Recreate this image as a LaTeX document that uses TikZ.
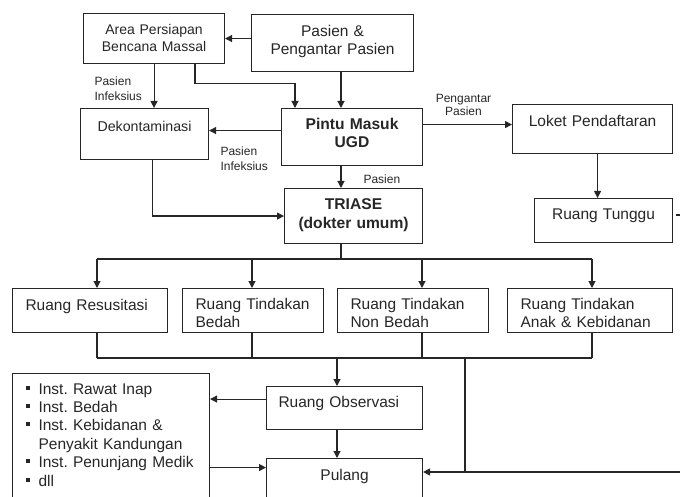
\documentclass[tikz,border=0pt]{standalone}
\usepackage{fontspec}
\setmainfont{Liberation Sans}
\usepackage{tikz}
\usetikzlibrary{arrows.meta}
\frenchspacing
\newcommand{\butir}{\makebox[13pt][l]{\rule[4.5pt]{4pt}{4pt}}}
\tikzset{
    kotak/.style = {rectangle, draw, anchor=north west, inner sep=0pt, align=center, font=\fontsize{15.5}{18}\selectfont},
    kotak_kiri/.style = {kotak, inner xsep=13pt, align=left, font=\fontsize{15.5}{17.5}\selectfont},
    kotak_tebal/.style = {kotak, font=\fontsize{15.6}{18.5}\selectfont\bfseries},
    ket/.style = {inner sep=0pt, text width=60pt, align=left, font=\fontsize{12}{15.5}\selectfont}
}

\begin{document}
\begin{tikzpicture}
            [x=1pt, y=-1pt, line width=1.1pt, color=black!85,
            >={Triangle[length=7pt, width=7pt]}]

            \useasboundingbox (0,0) rectangle (680,497);
            \clip (0,0) rectangle (680,497);

            \node [kotak, text width=141pt, text height=20.5pt, text depth=29.5pt, font=\fontsize{14}{17}\selectfont] (area) at (83,13) {Area Persiapan\\Bencana Massal};
            \node [kotak, text width=162pt, text height=21.5pt, text depth=35.5pt] (pasien) at (251,14) {Pasien \&\\Pengantar Pasien};
            \node [kotak, text width=128pt, text height=22.5pt, text depth=28.5pt, font=\fontsize{14.2}{17}\selectfont] (dekon) at (80,108) {Dekontaminasi};
            \node [kotak_tebal, text width=141pt, text height=20.5pt, text depth=36.5pt] (pintu) at (281,108) {Pintu Masuk\\UGD};
            \node [kotak, text width=160pt, text height=21.5pt, text depth=27.5pt] (loket) at (512,104) {Loket Pendaftaran};
            \node [kotak_tebal, text width=138pt, text height=21pt, text depth=34pt, font=\fontsize{15.6}{19}\selectfont\bfseries] (triase) at (284,188) {TRIASE\\(dokter umum)};
            \node [kotak, text width=138pt, text height=20.5pt, text depth=23.5pt] (tunggu) at (534,198) {Ruang Tunggu};

            \node [kotak_kiri, text width=129pt, text height=22pt, text depth=22pt] (resus) at (12,288) {Ruang Resusitasi};
            \node [kotak_kiri, text width=115pt, text height=21pt, text depth=23pt] (bedah) at (182,288) {Ruang Tindakan\\Bedah};
            \node [kotak_kiri, text width=125pt, text height=21pt, text depth=23pt] (nonbedah) at (337,288) {Ruang Tindakan\\Non Bedah};
            \node [kotak_kiri, text width=139pt, text height=21pt, text depth=23pt] (anak) at (507,288) {Ruang Tindakan\\Anak \& Kebidanan};

            \node [kotak_kiri, inner xsep=12pt, text width=132pt, text height=21pt, text depth=22pt] (obs) at (266,386) {Ruang Observasi};
            \node [kotak, text width=156pt, text height=21.5pt, text depth=30.5pt] (pulang) at (266,458) {Pulang};
            \node [kotak_kiri, text width=171pt, text height=20.5pt, text depth=116.5pt, font=\fontsize{15.5}{18.4}\selectfont] (inst) at (12,373)
                {\butir Inst. Rawat Inap\\
                 \butir Inst. Bedah\\
                 \butir Inst. Kebidanan \&\\
                 \hspace*{13pt}Penyakit Kandungan\\
                 \butir Inst. Penunjang Medik\\
                 \butir dll};

            \node [ket, anchor=base west] (ket_area) at (94,85.5) {Pasien\\Infeksius};
            \node [ket, anchor=base west] (ket_pintu) at (220,155.5) {Pasien\\Infeksius};
            \node [ket, anchor=base west] (ket_triase) at (363,183.5) {Pasien};
            \node [ket, anchor=base, align=center, font=\fontsize{12}{13.5}\selectfont] (ket_loket) at (463.5,102.5) {Pengantar\\Pasien};

            \coordinate (xtengah) at (341,0);
            \coordinate (xbelok) at (195,0);
            \coordinate (xpintu) at (295,0);
            \draw [->] (pasien.west |- area.east) -- (area.east);
            \draw [->] (pasien.south -| xtengah) -- (pintu.north -| xtengah);
            \draw [->] (area.south) -- (area.south |- dekon.north);
            \draw [->] (area.south -| xbelok) -- ++(0,19) -| (pintu.north -| xpintu);

            \coordinate (p_dekon) at ([yshift=6.5pt]pintu.west);
            \draw [->] (p_dekon) -- (p_dekon -| dekon.east);
            \draw [->] ([xshift=8pt]dekon.south) |- (triase.west);
            \draw [->] (pintu.south -| xtengah) -- (triase.north -| xtengah);
            \coordinate (p_loket) at ([yshift=12.5pt]pintu.east);
            \draw [->] (p_loket) -- (p_loket -| loket.west);
            \coordinate (l_bawah) at ([xshift=5pt]loket.south);
            \draw [->] (l_bawah) -- (l_bawah |- tunggu.north);
            \coordinate (lepas) at (676,215);
            \draw (lepas) -- ++(6,0);

            \foreach \k/\x in {1/97, 2/252, 3/422, 4/592} {
                \coordinate (atas\k) at (\x,259);
                \coordinate (bawah\k) at (\x,358);
            }
            \draw (triase.south -| xtengah) -- (atas1 -| xtengah);
            \draw (atas1) -- (atas4);
            \draw (bawah1) -- (bawah4);
            \foreach \k/\r in {1/resus, 2/bedah, 3/nonbedah, 4/anak} {
                \draw [->] (atas\k) -- (atas\k |- \r.north);
                \draw (\r.south -| atas\k) -- (bawah\k);
            }

            \coordinate (x_obs) at (337,358);
            \draw [->] (x_obs) -- (x_obs |- obs.north);
            \coordinate (o_kiri) at ([yshift=9pt]obs.west);
            \draw [->] (o_kiri) -- (o_kiri -| inst.east);
            \draw [->] (obs.south -| x_obs) -- (pulang.north -| x_obs);
            \coordinate (i_kanan) at ([yshift=17pt]pulang.west);
            \draw [->] (i_kanan -| inst.east) -- (i_kanan);
            \coordinate (ujung) at (680,472);
            \coordinate (cabang) at (465,358);
            \draw [->] (ujung) -- (ujung -| pulang.east);
            \draw (cabang) -- (cabang |- ujung);
        \end{tikzpicture}
\end{document}
